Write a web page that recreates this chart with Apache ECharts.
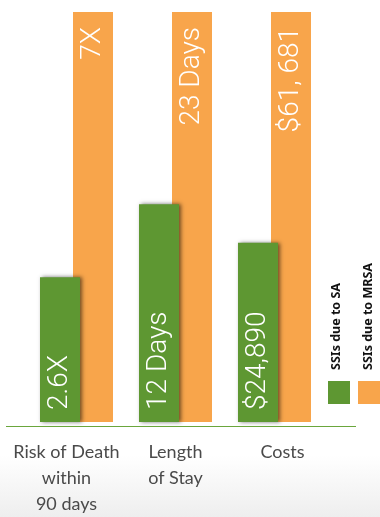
<!DOCTYPE html>
<html>
<head>
<meta charset="utf-8">
<script src="https://cdn.jsdelivr.net/npm/echarts@6/dist/echarts.min.js"></script>
<style>html,body{margin:0;padding:0;background:#fff}#c{width:380px;height:517px}</style>
</head>
<body>
<div id="c"></div>
<script>
// Data
var categories = ['Risk of Death\nwithin\n90 days', 'Length\nof Stay', 'Costs'];
var seriesNames = ['SSIs due to SA', 'SSIs due to MRSA'];
// bar heights relative to MRSA bar (percent)
var saHeights = [35.3, 53.1, 43.7];
var mrsaHeights = [100, 100, 100];
var saLabels = ['2.6X', '12 Days', '$24,890'];
var mrsaLabels = ['7X', '23 Days', '$61, 681'];

var GREEN = '#5e9732';
var ORANGE = '#f8a54b';
var catPadding = [[0, 20, 0, 0], [0, 0, 0, 0], [0, 0, 0, 16]];

var chart = echarts.init(document.getElementById('c'), null, {renderer: 'canvas'});
var labelFont = {fontFamily: 'Roboto', fontWeight: 300, fontSize: 28, color: '#fff'};

var option = {
  animation: false,
  backgroundColor: '#fff',
  grid: {left: 27, right: 56, top: 12, bottom: 91},
  xAxis: {
    type: 'category',
    data: categories.map(function (c, i) { return {value: c, textStyle: {padding: catPadding[i]}}; }),
    axisLine: {show: false},
    axisTick: {show: false},
    axisLabel: {
      fontFamily: 'Lato', fontSize: 18, color: '#4a4a4a', lineHeight: 26,
      margin: 17, interval: 0
    }
  },
  yAxis: {type: 'value', min: 0, max: 100, show: false, splitLine: {show: false}},
  series: [
    {
      name: seriesNames[0], type: 'bar', data: saHeights, barWidth: 40, barGap: '-17.5%', z: 3,
      itemStyle: {color: GREEN, shadowColor: 'rgba(0,0,0,0.55)', shadowBlur: 4, shadowOffsetX: 2, shadowOffsetY: 0},
      label: Object.assign({
        show: true, position: 'insideBottom', rotate: 90, align: 'left', verticalAlign: 'middle',
        distance: 12,
        formatter: function (p) { return saLabels[p.dataIndex]; }
      }, labelFont)
    },
    {
      name: seriesNames[1], type: 'bar', data: mrsaHeights, barWidth: 40, z: 2,
      itemStyle: {color: ORANGE},
      label: Object.assign({
        show: true, position: 'insideTop', rotate: 90, align: 'right', verticalAlign: 'middle',
        distance: 15,
        formatter: function (p) { return mrsaLabels[p.dataIndex]; }
      }, labelFont)
    }
  ],
  graphic: [
    {type: 'rect', z: -10, silent: true, shape: {x: 0, y: 455, width: 380, height: 62},
     style: {fill: new echarts.graphic.LinearGradient(0, 0, 0, 1, [{offset: 0, color: '#ffffff'}, {offset: 1, color: '#eeeeee'}])}},
    {type: 'line', z: 10, shape: {x1: 6, y1: 426.5, x2: 356, y2: 426.5}, style: {stroke: '#6aa63c', lineWidth: 1}},
    {type: 'rect', shape: {x: 328, y: 381, width: 22, height: 23}, style: {fill: GREEN}},
    {type: 'rect', shape: {x: 358, y: 381, width: 22, height: 23}, style: {fill: ORANGE}},
    {type: 'text', x: 336, y: 370, rotation: Math.PI / 2,
     style: {text: seriesNames[0], fontFamily: 'Noto Sans', fontWeight: 'bold', fontSize: 12.5, fill: '#111', align: 'left', verticalAlign: 'middle'}},
    {type: 'text', x: 368, y: 370, rotation: Math.PI / 2,
     style: {text: seriesNames[1], fontFamily: 'Noto Sans', fontWeight: 'bold', fontSize: 12.5, fill: '#111', align: 'left', verticalAlign: 'middle'}}
  ]
};
chart.setOption(option);
</script>
</body>
</html>
